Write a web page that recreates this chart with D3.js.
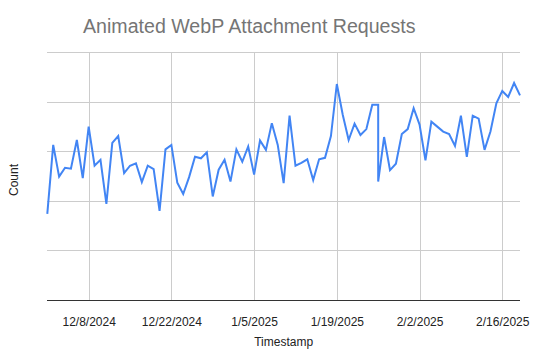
<!DOCTYPE html>
<html>
<head>
<meta charset="utf-8">
<script src="https://cdn.jsdelivr.net/npm/d3@7"></script>
<style>
  body { margin: 0; background: #fff; }
  svg { display: block; font-family: Arial, "Liberation Sans", sans-serif; }
</style>
</head>
<body>
<svg id="chart" width="535" height="360"></svg>
<script>
// Daily counts, 12/1/2024 .. 2/19/2025 (1/26 appears twice in the source)
var dates = [
  '2024-12-01', '2024-12-02', '2024-12-03', '2024-12-04', '2024-12-05', '2024-12-06', '2024-12-07',
  '2024-12-08', '2024-12-09', '2024-12-10', '2024-12-11', '2024-12-12', '2024-12-13', '2024-12-14',
  '2024-12-15', '2024-12-16', '2024-12-17', '2024-12-18', '2024-12-19', '2024-12-20', '2024-12-21',
  '2024-12-22', '2024-12-23', '2024-12-24', '2024-12-25', '2024-12-26', '2024-12-27', '2024-12-28',
  '2024-12-29', '2024-12-30', '2024-12-31', '2025-01-01', '2025-01-02', '2025-01-03', '2025-01-04',
  '2025-01-05', '2025-01-06', '2025-01-07', '2025-01-08', '2025-01-09', '2025-01-10', '2025-01-11',
  '2025-01-12', '2025-01-13', '2025-01-14', '2025-01-15', '2025-01-16', '2025-01-17', '2025-01-18',
  '2025-01-19', '2025-01-20', '2025-01-21', '2025-01-22', '2025-01-23', '2025-01-24', '2025-01-25',
  '2025-01-26', '2025-01-26', '2025-01-27', '2025-01-28', '2025-01-29', '2025-01-30', '2025-01-31',
  '2025-02-01', '2025-02-02', '2025-02-03', '2025-02-04', '2025-02-05', '2025-02-06', '2025-02-07',
  '2025-02-08', '2025-02-09', '2025-02-10', '2025-02-11', '2025-02-12', '2025-02-13', '2025-02-14',
  '2025-02-15', '2025-02-16', '2025-02-17', '2025-02-18', '2025-02-19'
];

var counts = [
  17.4, 31.3, 24.9, 26.7, 26.5, 32.3, 24.6,
  35.0, 27.1, 28.3, 19.4, 31.7, 33.1, 25.6,
  27.1, 27.6, 23.8, 27.1, 26.4, 18.0, 30.4,
  31.3, 23.7, 21.4, 24.8, 28.9, 28.6, 29.8,
  20.9, 26.3, 28.3, 23.9, 30.4, 27.9, 31.0,
  25.3, 32.2, 30.3, 35.7, 31.3, 23.6, 37.2,
  27.1, 27.7, 28.4, 24.2, 28.4, 28.7, 33.1,
  43.6, 37.4, 32.3, 35.6, 33.3, 34.5, 39.4,
  39.4, 23.9, 32.9, 26.2, 27.5, 33.5, 34.5,
  38.7, 35.4, 28.2, 36.0, 35.0, 34.0, 33.5,
  31.1, 37.2, 28.9, 37.2, 36.6, 30.3, 34.0,
  39.7, 42.2, 41.0, 43.8, 41.3
];

var xTicks = [ '2024-12-08', '2024-12-22', '2025-01-05', '2025-01-19', '2025-02-02', '2025-02-16' ];
var yTicks = [ 0, 10, 20, 30, 40, 50 ];

var title = 'Animated WebP Attachment Requests';
var xTitle = 'Timestamp';
var yTitle = 'Count';

var parse = d3.utcParse( '%Y-%m-%d' );
var fmt = d3.utcFormat( '%-m/%-d/%Y' );

var data = dates.map( function( d, i ) {
  return { date: parse( d ), value: counts[ i ] };
} );

var plot = { left: 47.3, right: 520, top: 52.3, bottom: 300 };

var svg = d3.select( '#chart' );

var x = d3.scaleUtc()
  .domain( d3.extent( data, function( d ) { return d.date; } ) )
  .range( [ plot.left, plot.right ] );

var y = d3.scaleLinear()
  .domain( [ 0, 50 ] )
  .range( [ plot.bottom, plot.top ] );

// Horizontal gridlines (no labels on this axis)
svg.append( 'g' )
  .attr( 'class', 'y grid' )
  .attr( 'transform', 'translate(' + plot.left + ',0)' )
  .call( d3.axisLeft( y ).tickValues( yTicks ).tickSize( -( plot.right - plot.left ) ).tickFormat( '' ) )
  .call( function( g ) {
    g.select( '.domain' ).remove();
    g.selectAll( '.tick line' ).attr( 'stroke', '#cccccc' ).attr( 'shape-rendering', 'crispEdges' );
  } );

// Vertical gridlines + date labels
svg.append( 'g' )
  .attr( 'class', 'x axis' )
  .attr( 'transform', 'translate(0,' + plot.bottom + ')' )
  .call( d3.axisBottom( x )
    .tickValues( xTicks.map( parse ) )
    .tickSize( -( plot.bottom - plot.top ) )
    .tickPadding( 17 )
    .tickFormat( fmt ) )
  .call( function( g ) {
    g.select( '.domain' ).remove();
    g.selectAll( '.tick line' ).attr( 'stroke', '#cccccc' ).attr( 'shape-rendering', 'crispEdges' );
    g.selectAll( '.tick text' )
      .attr( 'fill', '#222222' )
      .style( 'font-size', '12px' )
      .style( 'font-family', 'Arial, "Liberation Sans", sans-serif' );
  } );

// Baseline
svg.append( 'line' )
  .attr( 'x1', plot.left - 0.5 )
  .attr( 'x2', plot.right )
  .attr( 'y1', y( 0 ) )
  .attr( 'y2', y( 0 ) )
  .attr( 'stroke', '#333333' )
  .attr( 'shape-rendering', 'crispEdges' );

// Series line
svg.append( 'path' )
  .datum( data )
  .attr( 'fill', 'none' )
  .attr( 'stroke', '#4285f4' )
  .attr( 'stroke-width', 2 )
  .attr( 'stroke-linejoin', 'miter' )
  .attr( 'd', d3.line()
    .x( function( d ) { return x( d.date ); } )
    .y( function( d ) { return y( d.value ); } ) );

// Titles
svg.append( 'text' )
  .attr( 'x', 83 )
  .attr( 'y', 33 )
  .attr( 'fill', '#757575' )
  .style( 'font-size', '19.6px' )
  .text( title );

svg.append( 'text' )
  .attr( 'x', ( plot.left + plot.right ) / 2 )
  .attr( 'y', 346 )
  .attr( 'text-anchor', 'middle' )
  .attr( 'fill', '#222222' )
  .style( 'font-size', '12px' )
  .text( xTitle );

svg.append( 'text' )
  .attr( 'transform', 'translate(18,180) rotate(-90)' )
  .attr( 'text-anchor', 'middle' )
  .attr( 'fill', '#222222' )
  .style( 'font-size', '12px' )
  .text( yTitle );
</script>
</body>
</html>
